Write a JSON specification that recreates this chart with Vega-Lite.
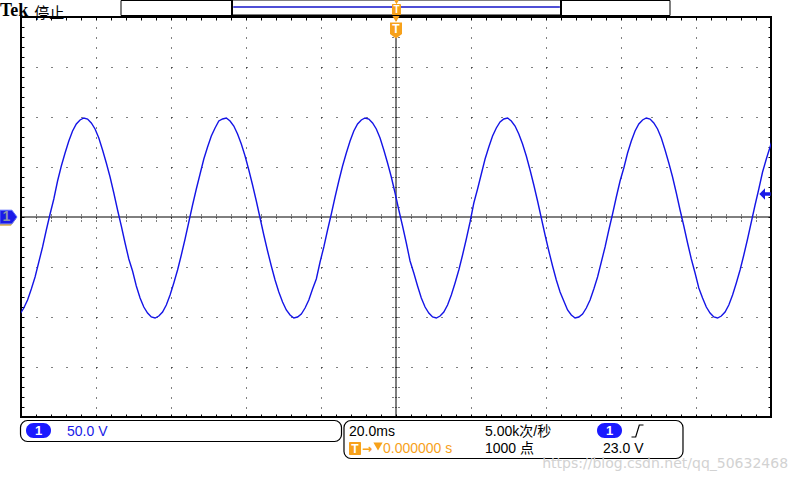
{
  "$schema": "https://vega.github.io/schema/vega-lite/v6.json",
  "width": 750,
  "height": 400,
  "autosize": {"type": "none"},
  "padding": {"left": 21, "top": 17, "right": 29, "bottom": 63},
  "background": "white",
  "config": {"view": {"stroke": "#000", "strokeWidth": 2}},
  "resolve": {"axis": {"x": "independent", "y": "independent"}},
  "data": {"values": [{}]},
  "layer": [
    {
      "mark": {"type": "rule", "color": "#000", "strokeWidth": 1},
      "encoding": {
        "y": {"datum": 0, "type": "quantitative", "axis": {"orient": "left", "values": [-190,-180,-170,-160,-150,-140,-130,-120,-110,-100,-90,-80,-70,-60,-50,-40,-30,-20,-10,0,10,20,30,40,50,60,70,80,90,100,110,120,130,140,150,160,170,180,190], "ticks": true, "tickSize": -3, "tickColor": "#000", "tickWidth": 1, "labels": false, "domain": false, "grid": false, "title": null}}
      }
    },
    {
      "mark": {"type": "rule", "color": "#000", "strokeWidth": 1},
      "encoding": {
        "x": {"datum": 0, "type": "quantitative", "axis": {"orient": "bottom", "values": [-96,-92,-88,-84,-80,-76,-72,-68,-64,-60,-56,-52,-48,-44,-40,-36,-32,-28,-24,-20,-16,-12,-8,-4,0,4,8,12,16,20,24,28,32,36,40,44,48,52,56,60,64,68,72,76,80,84,88,92,96], "ticks": true, "tickSize": -3, "tickColor": "#000", "tickWidth": 1, "labels": false, "domain": false, "grid": false, "title": null}},
        "y": {"datum": 179, "type": "quantitative", "axis": null},
        "y2": {"datum": -200}
      }
    },
    {
      "data": {"values": [
        {"t": -101.25, "v": -100}, {"t": -100.25, "v": -97}, {"t": -99.25, "v": -91}, {"t": -98.25, "v": -83}, {"t": -97.25, "v": -72}, {"t": -96.25, "v": -60}, {"t": -95.25, "v": -45}, {"t": -94.25, "v": -30}, {"t": -93.25, "v": -13}, {"t": -92.25, "v": 3}, {"t": -91.25, "v": 18}, {"t": -90.25, "v": 36}, {"t": -89.25, "v": 51}, {"t": -88.25, "v": 64}, {"t": -87.25, "v": 76}, {"t": -86.25, "v": 86}, {"t": -85.25, "v": 93}, {"t": -84.25, "v": 97}, {"t": -83.25, "v": 99}, {"t": -82.25, "v": 98}, {"t": -81.25, "v": 94}, {"t": -80.25, "v": 88}, {"t": -79.25, "v": 79}, {"t": -78.25, "v": 67}, {"t": -77.25, "v": 54}, {"t": -76.25, "v": 40}, {"t": -75.25, "v": 24}, {"t": -74.25, "v": 7}, {"t": -73.25, "v": -9}, {"t": -72.25, "v": -26}, {"t": -71.25, "v": -42}, {"t": -70.25, "v": -54}, {"t": -69.25, "v": -69}, {"t": -68.25, "v": -81}, {"t": -67.25, "v": -90}, {"t": -66.25, "v": -96}, {"t": -65.25, "v": -100}, {"t": -64.25, "v": -101}, {"t": -63.25, "v": -99}, {"t": -62.25, "v": -95}, {"t": -61.25, "v": -88}, {"t": -60.25, "v": -78}, {"t": -59.25, "v": -66}, {"t": -58.25, "v": -53}, {"t": -57.25, "v": -38}, {"t": -56.25, "v": -22}, {"t": -55.25, "v": -5}, {"t": -54.25, "v": 12}, {"t": -53.25, "v": 28}, {"t": -52.25, "v": 43}, {"t": -51.25, "v": 58}, {"t": -50.25, "v": 70}, {"t": -49.25, "v": 81}, {"t": -48.25, "v": 89}, {"t": -47.25, "v": 96}, {"t": -46.25, "v": 98}, {"t": -45.25, "v": 99}, {"t": -44.25, "v": 96}, {"t": -43.25, "v": 91}, {"t": -42.25, "v": 83}, {"t": -41.25, "v": 73}, {"t": -40.25, "v": 61}, {"t": -39.25, "v": 47}, {"t": -38.25, "v": 32}, {"t": -37.25, "v": 16}, {"t": -36.25, "v": -1}, {"t": -35.25, "v": -18}, {"t": -34.25, "v": -34}, {"t": -33.25, "v": -49}, {"t": -32.25, "v": -63}, {"t": -31.25, "v": -75}, {"t": -30.25, "v": -85}, {"t": -29.25, "v": -93}, {"t": -28.25, "v": -98}, {"t": -27.25, "v": -101}, {"t": -26.25, "v": -100}, {"t": -25.25, "v": -97}, {"t": -24.25, "v": -91}, {"t": -23.25, "v": -83}, {"t": -22.25, "v": -72}, {"t": -21.25, "v": -62}, {"t": -20.25, "v": -45}, {"t": -19.25, "v": -30}, {"t": -18.25, "v": -13}, {"t": -17.25, "v": 3}, {"t": -16.25, "v": 20}, {"t": -15.25, "v": 36}, {"t": -14.25, "v": 51}, {"t": -13.25, "v": 64}, {"t": -12.25, "v": 76}, {"t": -11.25, "v": 86}, {"t": -10.25, "v": 93}, {"t": -9.25, "v": 97}, {"t": -8.25, "v": 99}, {"t": -7.25, "v": 98}, {"t": -6.25, "v": 94}, {"t": -5.25, "v": 88}, {"t": -4.25, "v": 79}, {"t": -3.25, "v": 67}, {"t": -2.25, "v": 54}, {"t": -1.25, "v": 40}, {"t": -0.25, "v": 24}, {"t": 0.75, "v": 7}, {"t": 1.75, "v": -9}, {"t": 2.75, "v": -26}, {"t": 3.75, "v": -44}, {"t": 4.75, "v": -56}, {"t": 5.75, "v": -69}, {"t": 6.75, "v": -81}, {"t": 7.75, "v": -90}, {"t": 8.75, "v": -96}, {"t": 9.75, "v": -100}, {"t": 10.75, "v": -101}, {"t": 11.75, "v": -99}, {"t": 12.75, "v": -95}, {"t": 13.75, "v": -88}, {"t": 14.75, "v": -78}, {"t": 15.75, "v": -66}, {"t": 16.75, "v": -53}, {"t": 17.75, "v": -38}, {"t": 18.75, "v": -22}, {"t": 19.75, "v": -5}, {"t": 20.75, "v": 14}, {"t": 21.75, "v": 28}, {"t": 22.75, "v": 43}, {"t": 23.75, "v": 58}, {"t": 24.75, "v": 70}, {"t": 25.75, "v": 81}, {"t": 26.75, "v": 89}, {"t": 27.75, "v": 95}, {"t": 28.75, "v": 98}, {"t": 29.75, "v": 99}, {"t": 30.75, "v": 96}, {"t": 31.75, "v": 91}, {"t": 32.75, "v": 83}, {"t": 33.75, "v": 73}, {"t": 34.75, "v": 61}, {"t": 35.75, "v": 47}, {"t": 36.75, "v": 32}, {"t": 37.75, "v": 16}, {"t": 38.75, "v": -1}, {"t": 39.75, "v": -18}, {"t": 40.75, "v": -34}, {"t": 41.75, "v": -49}, {"t": 42.75, "v": -63}, {"t": 43.75, "v": -75}, {"t": 44.75, "v": -84}, {"t": 45.75, "v": -93}, {"t": 46.75, "v": -98}, {"t": 47.75, "v": -101}, {"t": 48.75, "v": -100}, {"t": 49.75, "v": -97}, {"t": 50.75, "v": -91}, {"t": 51.75, "v": -83}, {"t": 52.75, "v": -72}, {"t": 53.75, "v": -60}, {"t": 54.75, "v": -45}, {"t": 55.75, "v": -30}, {"t": 56.75, "v": -13}, {"t": 57.75, "v": 3}, {"t": 58.75, "v": 20}, {"t": 59.75, "v": 36}, {"t": 60.75, "v": 49}, {"t": 61.75, "v": 64}, {"t": 62.75, "v": 76}, {"t": 63.75, "v": 86}, {"t": 64.75, "v": 93}, {"t": 65.75, "v": 97}, {"t": 66.75, "v": 99}, {"t": 67.75, "v": 98}, {"t": 68.75, "v": 94}, {"t": 69.75, "v": 88}, {"t": 70.75, "v": 79}, {"t": 71.75, "v": 67}, {"t": 72.75, "v": 54}, {"t": 73.75, "v": 40}, {"t": 74.75, "v": 24}, {"t": 75.75, "v": 7}, {"t": 76.75, "v": -9}, {"t": 77.75, "v": -26}, {"t": 78.75, "v": -42}, {"t": 79.75, "v": -56}, {"t": 80.75, "v": -71}, {"t": 81.75, "v": -81}, {"t": 82.75, "v": -90}, {"t": 83.75, "v": -96}, {"t": 84.75, "v": -100}, {"t": 85.75, "v": -101}, {"t": 86.75, "v": -99}, {"t": 87.75, "v": -95}, {"t": 88.75, "v": -88}, {"t": 89.75, "v": -78}, {"t": 90.75, "v": -66}, {"t": 91.75, "v": -53}, {"t": 92.75, "v": -38}, {"t": 93.75, "v": -22}, {"t": 94.75, "v": -5}, {"t": 95.75, "v": 12}, {"t": 96.75, "v": 28}, {"t": 97.75, "v": 45}, {"t": 98.75, "v": 58}, {"t": 99.75, "v": 70}, {"t": 100.75, "v": 81}
      ]},
      "mark": {"type": "line", "color": "#1414e6", "strokeWidth": 1.4, "clip": true},
      "encoding": {
        "x": {"field": "t", "type": "quantitative", "scale": {"domain": [-100, 100], "nice": false, "zero": false}, "axis": {"orient": "bottom", "grid": true, "gridDash": [1, 9], "gridColor": "#000", "gridOpacity": 1, "gridWidth": 1, "values": [-80, -60, -40, -20, 20, 40, 60, 80], "ticks": false, "labels": false, "domain": false, "title": null}},
        "y": {"field": "v", "type": "quantitative", "scale": {"domain": [-200, 200], "nice": false, "zero": false}, "axis": {"orient": "left", "grid": true, "gridDash": [1, 14], "gridColor": "#000", "gridOpacity": 1, "gridWidth": 1, "values": [-150, -100, -50, 50, 100, 150], "ticks": false, "labels": false, "domain": false, "title": null}}
      }
    },
    {
      "mark": {"type": "text", "text": "Tek", "align": "left", "baseline": "alphabetic", "font": "Liberation Serif", "fontWeight": "bold", "fontSize": 18, "color": "#000"},
      "encoding": {
        "x": {"datum": -105.6, "type": "quantitative", "axis": {"orient": "top", "values": [-96,-92,-88,-84,-80,-76,-72,-68,-64,-60,-56,-52,-48,-44,-40,-36,-32,-28,-24,-20,-16,-12,-8,-4,0,4,8,12,16,20,24,28,32,36,40,44,48,52,56,60,64,68,72,76,80,84,88,92,96], "ticks": true, "tickSize": -3, "tickColor": "#000", "tickWidth": 1, "labels": false, "domain": false, "grid": false, "title": null}},
        "y": {"datum": 201, "type": "quantitative", "axis": {"orient": "right", "values": [-190,-180,-170,-160,-150,-140,-130,-120,-110,-100,-90,-80,-70,-60,-50,-40,-30,-20,-10,0,10,20,30,40,50,60,70,80,90,100,110,120,130,140,150,160,170,180,190], "ticks": true, "tickSize": -3, "tickColor": "#000", "tickWidth": 1, "labels": false, "domain": false, "grid": false, "title": null}}
      }
    },
    {
      "mark": {"type": "text", "text": "停止", "align": "left", "baseline": "middle", "font": "Noto Sans CJK SC", "fontSize": 15, "color": "#000"},
      "encoding": {
        "x": {"datum": -96.5, "type": "quantitative", "axis": {"orient": "bottom", "offset": -203, "values": [-96,-92,-88,-84,-80,-76,-72,-68,-64,-60,-56,-52,-48,-44,-40,-36,-32,-28,-24,-20,-16,-12,-8,-4,4,8,12,16,20,24,28,32,36,40,44,48,52,56,60,64,68,72,76,80,84,88,92,96], "ticks": true, "tickSize": 7, "tickDash": [1, 2], "tickColor": "#000", "tickWidth": 1, "labels": false, "domain": false, "grid": false, "title": null}},
        "y": {"datum": 204, "type": "quantitative", "axis": {"orient": "left", "offset": -378, "values": [-190,-180,-170,-160,-150,-140,-130,-120,-110,-100,-90,-80,-70,-60,-50,-40,-30,-20,-10,10,20,30,40,50,60,70,80,90,100,110,120,130,140,150,160,170,180,190], "ticks": true, "tickSize": 7, "tickDash": [1, 2], "tickColor": "#000", "tickWidth": 1, "labels": false, "domain": false, "grid": false, "title": null}}
      }
    },
    {
      "mark": {"type": "rect", "fill": "white", "stroke": "#000", "strokeWidth": 1},
      "encoding": {"x": {"datum": -73.33, "type": "quantitative", "axis": null}, "x2": {"datum": 73.07}, "y": {"datum": 216.5, "type": "quantitative", "axis": null}, "y2": {"datum": 201.5}}
    },
    {
      "mark": {"type": "rect", "fill": "white", "stroke": "#000", "strokeWidth": 2},
      "encoding": {"x": {"datum": -43.73, "type": "quantitative", "axis": null}, "x2": {"datum": 44.0}, "y": {"datum": 217.5, "type": "quantitative", "axis": null}, "y2": {"datum": 201.5}}
    },
    {
      "mark": {"type": "rule", "color": "#1414c8", "strokeWidth": 1.5},
      "encoding": {"x": {"datum": -43.4, "type": "quantitative", "axis": null}, "x2": {"datum": 43.7}, "y": {"datum": 210, "type": "quantitative", "axis": null}}
    },
    {
      "mark": {"type": "point", "shape": "triangle-down", "size": 40, "filled": true, "color": "#f7a11a", "opacity": 1, "strokeWidth": 0},
      "encoding": {"x": {"datum": 0.13, "type": "quantitative", "axis": null}, "y": {"datum": 215.5, "type": "quantitative", "axis": null}}
    },
    {
      "mark": {"type": "rect", "fill": "#f7a11a", "cornerRadius": 1},
      "encoding": {"x": {"datum": -1.07, "type": "quantitative", "axis": null}, "x2": {"datum": 1.33}, "y": {"datum": 213, "type": "quantitative", "axis": null}, "y2": {"datum": 202}}
    },
    {
      "mark": {"type": "text", "text": "T", "align": "center", "baseline": "middle", "font": "Liberation Sans", "fontWeight": "bold", "fontSize": 10, "color": "white"},
      "encoding": {"x": {"datum": 0.13, "type": "quantitative", "axis": null}, "y": {"datum": 207.5, "type": "quantitative", "axis": null}}
    },
    {
      "mark": {"type": "point", "shape": "triangle-down", "size": 50, "filled": true, "color": "#f7a11a", "opacity": 1, "strokeWidth": 0},
      "encoding": {"x": {"datum": 0, "type": "quantitative", "axis": null}, "y": {"datum": 198, "type": "quantitative", "axis": null}}
    },
    {
      "mark": {"type": "point", "shape": "M-0.75,-1L0.75,-1L0.75,0.45L0,1L-0.75,0.45Z", "size": 256, "filled": true, "color": "#f7a11a", "opacity": 1, "strokeWidth": 0},
      "encoding": {"x": {"datum": 0, "type": "quantitative", "axis": null}, "y": {"datum": 186.5, "type": "quantitative", "axis": null}}
    },
    {
      "mark": {"type": "text", "text": "T", "align": "center", "baseline": "middle", "font": "Liberation Sans", "fontWeight": "bold", "fontSize": 12, "color": "white"},
      "encoding": {"x": {"datum": 0, "type": "quantitative", "axis": null}, "y": {"datum": 188, "type": "quantitative", "axis": null}}
    },
    {
      "mark": {"type": "point", "shape": "M-1,-0.8L0.4,-0.8L1,0L0.4,0.8L-1,0.8Z", "size": 289, "filled": true, "color": "#d8b048", "opacity": 1, "strokeWidth": 0},
      "encoding": {"x": {"datum": -103.6, "type": "quantitative", "axis": null}, "y": {"datum": -2, "type": "quantitative", "axis": null}}
    },
    {
      "mark": {"type": "point", "shape": "M-1,-0.8L0.4,-0.8L1,0L0.4,0.8L-1,0.8Z", "size": 289, "filled": true, "color": "#1a1ae8", "opacity": 1, "stroke": "#5a6cff", "strokeWidth": 1},
      "encoding": {"x": {"datum": -103.33, "type": "quantitative", "axis": null}, "y": {"datum": 0, "type": "quantitative", "axis": null}}
    },
    {
      "mark": {"type": "text", "text": "1", "align": "center", "baseline": "middle", "font": "Liberation Sans", "fontWeight": "bold", "fontSize": 14, "color": "#8a96aa"},
      "encoding": {"x": {"datum": -103.9, "type": "quantitative", "axis": null}, "y": {"datum": 0, "type": "quantitative", "axis": null}}
    },
    {
      "mark": {"type": "point", "shape": "M-1,0L0,-1L0,-0.3L1,-0.3L1,0.3L0,0.3L0,1Z", "size": 130, "filled": true, "color": "#1a1ae8", "opacity": 1, "strokeWidth": 0},
      "encoding": {"x": {"datum": 98.4, "type": "quantitative", "axis": null}, "y": {"datum": 23, "type": "quantitative", "axis": null}}
    },
    {
      "mark": {"type": "rect", "fill": "white", "stroke": "#000", "strokeWidth": 1.2, "cornerRadius": 7},
      "encoding": {"x": {"datum": -100.13, "type": "quantitative", "axis": null}, "x2": {"datum": -14.53}, "y": {"datum": -203.5, "type": "quantitative", "axis": null}, "y2": {"datum": -224.5}}
    },
    {
      "mark": {"type": "rect", "fill": "white", "stroke": "#000", "strokeWidth": 1.2, "cornerRadius": 7},
      "encoding": {"x": {"datum": -13.87, "type": "quantitative", "axis": null}, "x2": {"datum": 76.53}, "y": {"datum": -203.5, "type": "quantitative", "axis": null}, "y2": {"datum": -241.5}}
    },
    {
      "mark": {"type": "rect", "fill": "#1a1aff", "cornerRadius": 7.5},
      "encoding": {"x": {"datum": -98.67, "type": "quantitative", "axis": null}, "x2": {"datum": -92}, "y": {"datum": -206, "type": "quantitative", "axis": null}, "y2": {"datum": -221}}
    },
    {
      "mark": {"type": "text", "text": "1", "align": "center", "baseline": "middle", "font": "Liberation Sans", "fontWeight": "bold", "fontSize": 13, "color": "white"},
      "encoding": {"x": {"datum": -95.33, "type": "quantitative", "axis": null}, "y": {"datum": -213.5, "type": "quantitative", "axis": null}}
    },
    {
      "mark": {"type": "text", "text": "50.0 V", "align": "left", "baseline": "middle", "font": "Liberation Sans", "fontSize": 14, "color": "#1a1ae8"},
      "encoding": {"x": {"datum": -87.73, "type": "quantitative", "axis": null}, "y": {"datum": -214.5, "type": "quantitative", "axis": null}}
    },
    {
      "mark": {"type": "text", "text": "20.0ms", "align": "left", "baseline": "middle", "font": "Liberation Sans", "fontSize": 14, "color": "#000"},
      "encoding": {"x": {"datum": -12.53, "type": "quantitative", "axis": null}, "y": {"datum": -214.5, "type": "quantitative", "axis": null}}
    },
    {
      "mark": {"type": "text", "text": "5.00k次/秒", "align": "left", "baseline": "middle", "font": "Liberation Sans, Noto Sans CJK SC", "fontSize": 14, "color": "#000"},
      "encoding": {"x": {"datum": 23.73, "type": "quantitative", "axis": null}, "y": {"datum": -214.5, "type": "quantitative", "axis": null}}
    },
    {
      "mark": {"type": "rect", "fill": "#1a1aff", "cornerRadius": 7.5},
      "encoding": {"x": {"datum": 53.6, "type": "quantitative", "axis": null}, "x2": {"datum": 60.27}, "y": {"datum": -206, "type": "quantitative", "axis": null}, "y2": {"datum": -221}}
    },
    {
      "mark": {"type": "text", "text": "1", "align": "center", "baseline": "middle", "font": "Liberation Sans", "fontWeight": "bold", "fontSize": 13, "color": "white"},
      "encoding": {"x": {"datum": 56.93, "type": "quantitative", "axis": null}, "y": {"datum": -213.5, "type": "quantitative", "axis": null}}
    },
    {
      "mark": {"type": "point", "shape": "M-1,1L-0.3,1L0.3,-1L1,-1", "size": 144, "filled": false, "fill": null, "color": "#000", "opacity": 1, "strokeWidth": 1.2},
      "encoding": {"x": {"datum": 64.4, "type": "quantitative", "axis": null}, "y": {"datum": -214, "type": "quantitative", "axis": null}}
    },
    {
      "mark": {"type": "rect", "fill": "#f7a11a", "cornerRadius": 1},
      "encoding": {"x": {"datum": -12.53, "type": "quantitative", "axis": null}, "x2": {"datum": -9.33}, "y": {"datum": -225, "type": "quantitative", "axis": null}, "y2": {"datum": -238}}
    },
    {
      "mark": {"type": "text", "text": "T", "align": "center", "baseline": "middle", "font": "Liberation Sans", "fontWeight": "bold", "fontSize": 12, "color": "white"},
      "encoding": {"x": {"datum": -10.93, "type": "quantitative", "axis": null}, "y": {"datum": -231.5, "type": "quantitative", "axis": null}}
    },
    {
      "mark": {"type": "text", "text": "→", "align": "left", "baseline": "middle", "font": "DejaVu Sans", "fontWeight": "bold", "fontSize": 12, "color": "#f7a11a"},
      "encoding": {"x": {"datum": -9.07, "type": "quantitative", "axis": null}, "y": {"datum": -231.5, "type": "quantitative", "axis": null}}
    },
    {
      "mark": {"type": "point", "shape": "triangle-down", "size": 85, "filled": true, "color": "#f7a11a", "opacity": 1, "strokeWidth": 0},
      "encoding": {"x": {"datum": -4.8, "type": "quantitative", "axis": null}, "y": {"datum": -229.5, "type": "quantitative", "axis": null}}
    },
    {
      "mark": {"type": "text", "text": "0.000000 s", "align": "left", "baseline": "middle", "font": "Liberation Sans", "fontSize": 14, "color": "#f7a11a"},
      "encoding": {"x": {"datum": -3.47, "type": "quantitative", "axis": null}, "y": {"datum": -231.5, "type": "quantitative", "axis": null}}
    },
    {
      "mark": {"type": "text", "text": "1000 点", "align": "left", "baseline": "middle", "font": "Liberation Sans, Noto Sans CJK SC", "fontSize": 14, "color": "#000"},
      "encoding": {"x": {"datum": 23.73, "type": "quantitative", "axis": null}, "y": {"datum": -231.5, "type": "quantitative", "axis": null}}
    },
    {
      "mark": {"type": "text", "text": "23.0 V", "align": "left", "baseline": "middle", "font": "Liberation Sans", "fontSize": 14, "color": "#000"},
      "encoding": {"x": {"datum": 55.2, "type": "quantitative", "axis": null}, "y": {"datum": -231.5, "type": "quantitative", "axis": null}}
    },
    {
      "mark": {"type": "text", "text": "https://blog.csdn.net/qq_50632468", "align": "left", "baseline": "middle", "font": "DejaVu Sans", "fontSize": 14, "color": "#d2d2d2"},
      "encoding": {"x": {"datum": 39.0, "type": "quantitative", "axis": null}, "y": {"datum": -246.5, "type": "quantitative", "axis": null}}
    }
  ]
}
